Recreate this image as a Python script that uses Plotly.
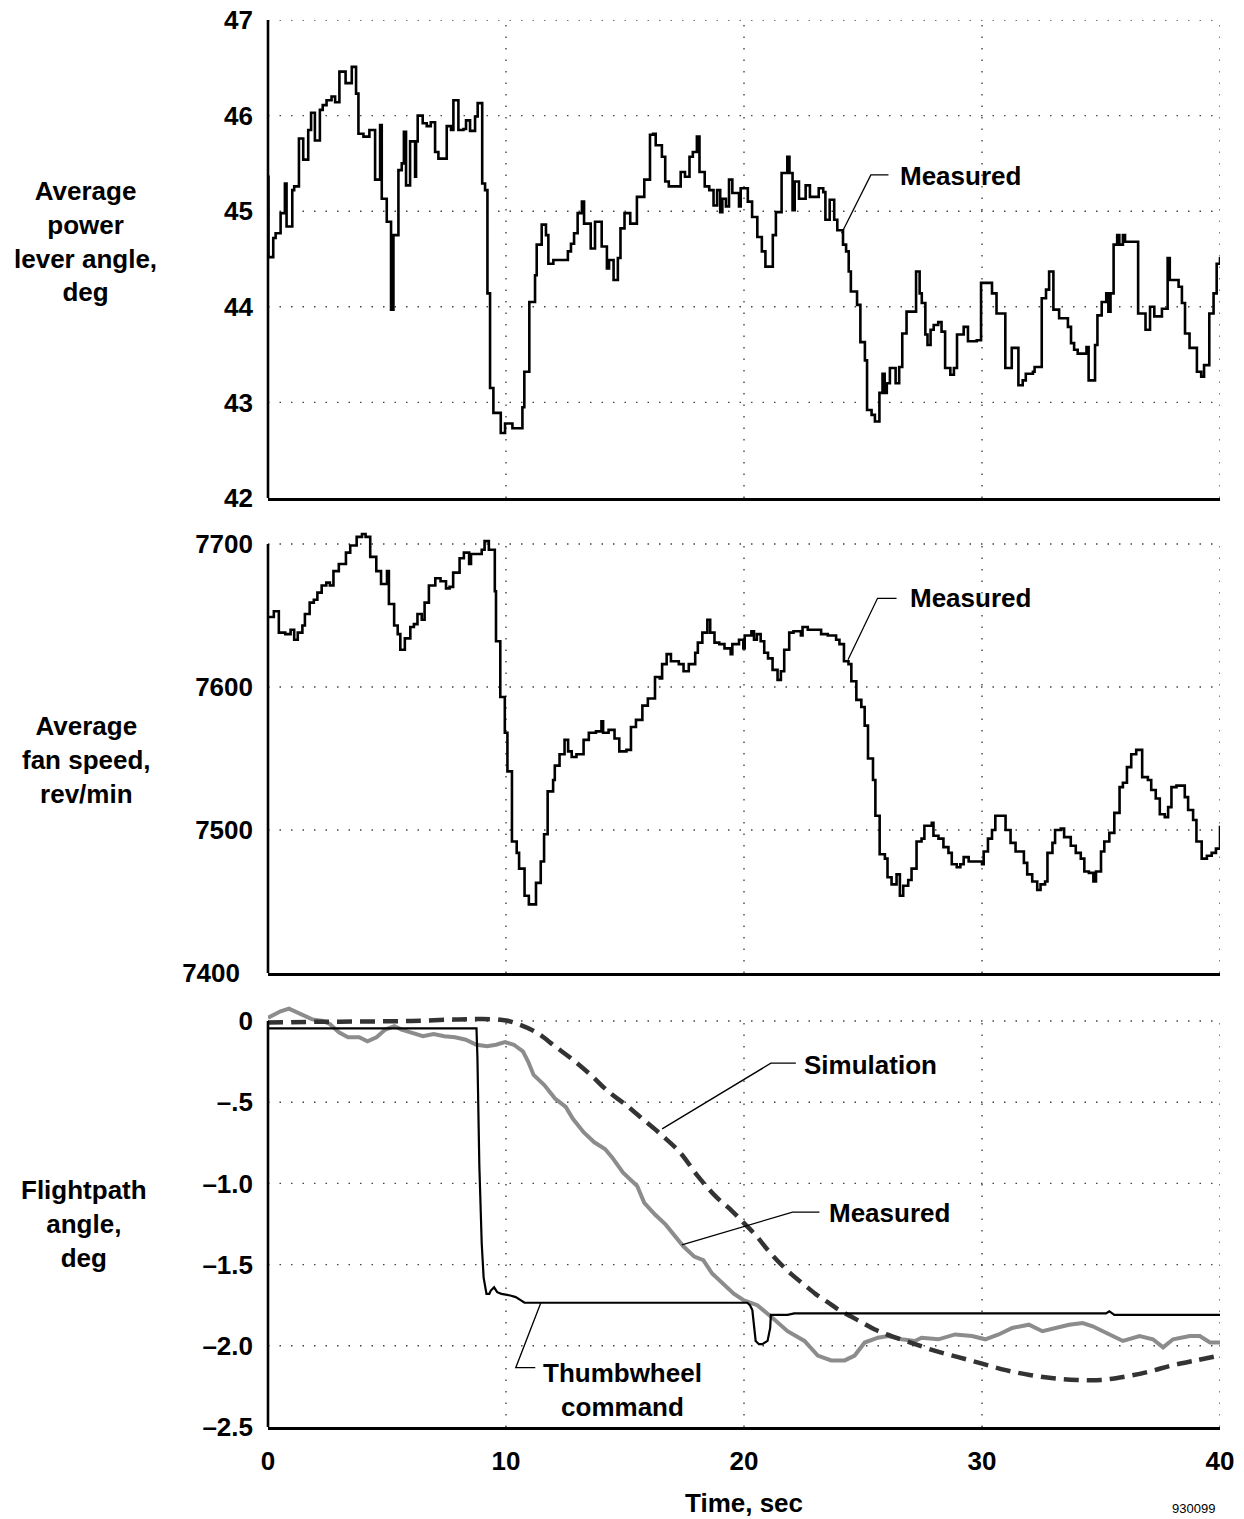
import plotly.graph_objects as go

FONT = "Liberation Sans, Arial, Helvetica, sans-serif"

# ---------------- data ----------------
# Panel 1: average power lever angle, deg (step trace)
t_pla = [0, 0.02, 0.22, 0.32, 0.53, 0.71, 0.78, 1.02, 1.10, 1.30, 1.48, 1.69, 1.81, 1.97, 2.18, 2.30,
         2.46, 2.67, 2.82, 3.00, 3.26, 3.52, 3.70, 3.80, 4.01, 4.26, 4.50, 4.71, 4.78, 4.99, 5.17, 5.27,
         5.48, 5.62, 5.71, 5.80, 5.97, 6.18, 6.22, 6.29, 6.50, 6.67, 6.84, 7.02, 7.16, 7.51, 7.69, 7.79,
         8.00, 8.21, 8.32, 8.49, 8.70, 8.81, 9.00, 9.12, 9.22, 9.33, 9.47, 9.78, 9.96, 10.27, 10.69, 10.77,
         10.98, 11.22, 11.29, 11.50, 11.68, 11.78, 11.99,
         12.60, 12.73, 12.86, 13.01, 13.19, 13.28, 13.56, 13.74, 14.02, 14.24, 14.33, 14.52, 14.70, 14.81,
         14.98, 15.22, 15.50, 15.81, 16.05, 16.18, 16.29, 16.55, 16.69, 16.84, 17.34, 17.52, 17.71, 17.85,
         18.02, 18.13, 18.35, 18.54, 18.72, 18.87, 19.00, 19.09, 19.24, 19.37, 19.51, 19.79, 19.86, 20.16,
         20.34, 20.56, 20.75, 20.90, 21.21, 21.34, 21.58, 21.82, 21.91, 22.04, 22.13, 22.31, 22.59, 22.77,
         23.14, 23.33, 23.42, 23.60, 23.79, 23.92, 24.16, 24.29, 24.40, 24.49, 24.75, 24.89, 25.08, 25.17,
         25.36, 25.50, 25.69, 25.82, 25.91, 26.00, 26.13, 26.37, 26.52, 26.65, 26.83, 27.23, 27.38, 27.47,
         27.62, 27.71, 27.84, 27.97, 28.16, 28.30, 28.45, 28.67, 28.82, 28.95, 29.23, 29.41, 29.78, 29.96,
         30.42, 30.61, 30.98, 31.25, 31.53, 31.71, 31.84, 32.14, 32.21, 32.51, 32.69, 32.82, 33.00, 33.24,
         33.61, 33.74, 33.87, 34.02, 34.39, 34.48, 34.75, 34.85, 35.03, 35.22, 35.31, 35.40, 35.53, 35.68,
         35.77, 35.92, 36.01, 36.56, 36.87, 37.06, 37.24, 37.56, 37.80, 37.89, 38.26, 38.40, 38.53, 38.72,
         39.03, 39.21, 39.33, 39.55, 39.73, 39.86, 40.0]
pla = [45.36, 44.52, 44.72, 44.77, 44.98, 45.29, 44.84, 45.22, 45.26, 45.76, 45.54, 45.85, 46.03, 45.74, 46.06, 46.11,
       46.16, 46.20, 46.14, 46.46, 46.34, 46.51, 46.23, 45.81, 45.78, 45.85, 45.33, 45.90, 45.13, 44.89, 43.97, 44.75,
       45.43, 45.50, 45.83, 45.27, 45.73, 45.36, 45.73, 46.00, 45.92, 45.89, 45.93, 45.62, 45.55, 45.89, 45.85, 46.16,
       45.85, 45.86, 45.95, 45.84, 45.99, 46.13, 45.29, 45.22, 44.14, 43.15, 42.89, 42.68, 42.78, 42.73, 42.95, 43.32,
       44.05, 44.33, 44.65, 44.86, 44.75, 44.45, 44.49,
       44.58, 44.66, 44.77, 44.98, 45.10, 44.87, 44.61, 44.89, 44.63, 44.40, 44.49, 44.28, 44.51, 44.82,
       44.98, 44.87, 45.15, 45.33, 45.80, 45.81, 45.69, 45.57, 45.31, 45.26, 45.41, 45.36, 45.57, 45.62,
       45.78, 45.41, 45.26, 45.22, 45.06, 45.22, 44.99, 45.13, 45.05, 45.33, 45.19, 45.05, 45.24, 45.10,
       44.94, 44.73, 44.58, 44.42, 44.75, 44.99, 45.40, 45.57, 45.40, 45.01, 45.31, 45.13, 45.27, 45.15,
       45.24, 45.20, 44.91, 45.12, 44.91, 44.80, 44.65, 44.58, 44.37, 44.16, 44.02, 43.63, 43.44, 42.92,
       42.87, 42.80, 43.10, 43.30, 43.10, 43.20, 43.36, 43.20, 43.37, 43.72, 43.95, 44.37, 44.14, 44.04,
       43.71, 43.60, 43.76, 43.81, 43.84, 43.74, 43.36, 43.29, 43.36, 43.71, 43.79, 43.64, 43.65, 44.25,
       44.14, 43.93, 43.36, 43.57, 43.18, 43.23, 43.30, 43.32, 43.37, 44.09, 44.18, 44.37, 43.97, 43.88,
       43.79, 43.62, 43.55, 43.51, 43.58, 43.23, 43.60, 43.91, 44.05, 44.14, 43.95, 44.14, 44.65, 44.75,
       44.65, 44.75, 44.68, 43.93, 43.76, 44.00, 43.90, 43.98, 44.51, 44.28, 44.21, 44.04, 43.72, 43.57,
       43.32, 43.27, 43.39, 43.93, 44.14, 44.45, 44.52]

# Panel 2: average fan speed, rev/min (step trace)
t_fan = [0.0, 0.245, 0.455, 0.725, 0.95, 1.10, 1.25, 1.445, 1.55, 1.75, 1.925, 2.075, 2.255, 2.45, 2.60, 2.75,
         2.975, 3.275, 3.455, 3.725, 3.95, 4.10, 4.295, 4.55, 4.75, 5.00, 5.08, 5.30, 5.45, 5.56, 5.75, 5.98,
         6.13, 6.28, 6.46, 6.58, 6.76, 7.03, 7.25, 7.48, 7.63, 7.78, 8.05, 8.23, 8.45, 8.53, 8.98, 9.10,
         9.28, 9.53, 9.58, 9.76, 9.95, 10.06, 10.25, 10.45, 10.55, 10.78, 10.96, 11.26, 11.46, 11.60, 11.75,
         11.98, 12.05, 12.25, 12.46, 12.61, 12.76, 12.96, 13.26, 13.48, 13.78, 14.01, 14.08, 14.31, 14.56,
         14.76, 15.06, 15.25, 15.46, 15.73, 15.96, 16.26, 16.46, 16.56, 16.75, 16.93, 17.26, 17.46, 17.68,
         17.95, 18.06, 18.25, 18.46, 18.58, 18.76, 18.96,
         19.18, 19.44, 19.51, 19.79, 19.97, 20.03, 20.31, 20.42, 20.54, 20.70, 20.85, 21.01, 21.20, 21.41,
         21.55, 21.69, 21.90, 22.08, 22.39, 22.46, 22.68, 23.24, 23.52, 23.87, 24.01, 24.20, 24.39, 24.51,
         24.72, 24.93, 25.07, 25.21, 25.42, 25.52, 25.70, 25.92, 26.03, 26.20, 26.41, 26.55, 26.69, 26.90,
         27.04, 27.25, 27.46, 27.58, 27.89, 27.96, 28.17, 28.38, 28.59, 28.73, 28.94, 29.09, 29.23, 29.44,
         30.00, 30.07, 30.25, 30.42, 30.56, 30.99, 31.20, 31.41, 31.76, 31.90, 32.11, 32.32, 32.46, 32.65,
         32.75, 32.96, 33.07, 33.31, 33.45, 33.73, 33.94, 34.15, 34.30, 34.49, 34.68, 34.79, 35.00, 35.14,
         35.35, 35.56, 35.78, 35.92, 36.09, 36.27, 36.48, 36.73, 36.97, 37.11, 37.30, 37.47, 37.68, 37.82,
         37.96, 38.17, 38.52, 38.66, 38.87, 39.01, 39.23, 39.45, 39.65, 39.83, 40.0]
fan = [7649, 7653, 7638, 7637, 7640, 7633, 7638, 7643, 7651, 7659, 7661, 7666, 7671, 7673, 7671, 7681,
       7686, 7694, 7699, 7705, 7707, 7705, 7691, 7681, 7672, 7681, 7658, 7643, 7637, 7626, 7634, 7642,
       7644, 7651, 7647, 7659, 7671, 7676, 7674, 7669, 7670, 7680, 7690, 7694, 7686, 7693, 7696, 7702,
       7696, 7667, 7632, 7593, 7568, 7541, 7492, 7484, 7473, 7454, 7448, 7463, 7478, 7497, 7527,
       7535, 7545, 7553, 7563, 7555, 7551, 7553, 7563, 7568, 7569, 7576, 7568, 7570, 7564,
       7555, 7556, 7572, 7577, 7587, 7592, 7607, 7606, 7616, 7623, 7618, 7616, 7611, 7616,
       7624, 7631, 7638, 7647, 7638, 7631, 7630,
       7627, 7623, 7630, 7633, 7627, 7636, 7639, 7633, 7637, 7632, 7624, 7620, 7612, 7605,
       7611, 7626, 7638, 7639, 7636, 7642, 7640, 7637, 7636, 7633, 7630, 7618, 7616, 7604,
       7591, 7586, 7573, 7550, 7535, 7510, 7483, 7480, 7467, 7462, 7469, 7454, 7461, 7465,
       7473, 7492, 7494, 7503, 7505, 7496, 7494, 7488, 7484, 7476, 7474, 7476, 7481, 7478,
       7476, 7485, 7494, 7500, 7510, 7500, 7491, 7485, 7477, 7469, 7464, 7458, 7462, 7464,
       7484, 7491, 7500, 7501, 7495, 7489, 7484, 7480, 7471, 7470, 7464, 7471, 7485, 7492,
       7498, 7512, 7530, 7533, 7544, 7553, 7556, 7537, 7535, 7528, 7522, 7511, 7509, 7516,
       7530, 7531, 7523, 7514, 7507, 7492, 7480, 7482, 7484, 7487, 7503]

# Panel 3: flightpath angle, deg
t_gam_meas = [0, 0.23, 0.53, 0.88, 1.11, 1.48, 1.86, 2.31, 2.61, 2.98, 3.36, 3.83, 4.18, 4.56, 4.93, 5.31,
              5.61, 6.06, 6.51, 6.96, 7.41, 7.86, 8.31, 8.76, 9.21, 9.58, 9.96, 10.33, 10.71, 10.93, 11.16,
              11.61, 12.06, 12.51, 12.81, 13.26, 13.71, 14.16, 14.46, 14.91, 15.51, 15.81, 16.26, 16.71,
              17.16, 17.46, 17.91, 18.29, 18.66, 19.11, 19.57, 20.0, 20.56, 21.13, 21.83, 22.54, 23.10,
              23.66, 24.23, 24.65, 25.07, 25.63, 26.06, 26.62, 27.18, 27.46, 28.17, 28.87, 29.58, 30.14,
              30.70, 31.27, 31.97, 32.54, 33.10, 33.66, 34.23, 34.65, 35.21, 35.92, 36.62, 37.18, 37.61,
              38.03, 38.73, 39.15, 39.58, 40.0]
gam_meas = [0.02, 0.04, 0.06, 0.076, 0.06, 0.03, 0.01, 0.0, -0.02, -0.07, -0.10, -0.10, -0.125, -0.10, -0.053, -0.032,
            -0.053, -0.073, -0.094, -0.08, -0.094, -0.10, -0.115, -0.146, -0.156, -0.146, -0.13, -0.146, -0.187, -0.25, -0.332,
            -0.394, -0.477, -0.529, -0.602, -0.685, -0.747, -0.788, -0.84, -0.933, -1.016, -1.12, -1.192, -1.254,
            -1.337, -1.389, -1.451, -1.472, -1.555, -1.617, -1.679, -1.72, -1.75, -1.82, -1.91, -1.97, -2.06,
            -2.09, -2.09, -2.06, -1.98, -1.95, -1.94, -1.96, -1.97, -1.95, -1.96, -1.93, -1.94, -1.96,
            -1.93, -1.89, -1.87, -1.91, -1.89, -1.87, -1.86, -1.88, -1.92, -1.97, -1.94, -1.96, -2.01,
            -1.96, -1.94, -1.94, -1.98, -1.98]

t_sim = [0, 2, 4, 6, 8, 9, 10, 10.56, 11.31, 12.06, 12.81, 13.56, 14.31, 15.06, 15.81, 16.56, 17.31, 18.06,
         18.81, 19.5, 20.0, 20.5, 21.0, 21.5, 22.0, 22.5, 23.0, 23.5, 24.0, 24.5, 25.0, 25.5, 26.0, 27.0,
         28.0, 29.0, 30.0, 31.0, 32.0, 33.0, 34.0, 35.0, 36.0, 37.0, 38.0, 39.0, 40.0]
sim = [-0.01, -0.005, -0.003, 0.0, 0.01, 0.012, 0.003, -0.022, -0.073, -0.156, -0.239, -0.332, -0.436, -0.519,
       -0.612, -0.705, -0.809, -0.955, -1.08, -1.17, -1.245, -1.32, -1.41, -1.49, -1.56, -1.62, -1.68, -1.73,
       -1.78, -1.82, -1.86, -1.90, -1.93, -1.98, -2.03, -2.07, -2.11, -2.15, -2.18, -2.20, -2.21, -2.21,
       -2.19, -2.16, -2.12, -2.09, -2.06]

t_thumb = [0, 8.76, 8.80, 8.88, 8.98, 9.06, 9.18, 9.30, 9.36, 9.50, 9.63, 9.81, 10.18, 10.41, 10.63, 10.78,
           20.14, 20.25, 20.35, 20.42, 20.49, 20.63, 20.77, 20.99, 21.10, 21.13, 21.83, 22.11, 35.21, 35.35,
           35.56, 40.0]
thumb = [-0.046, -0.046, -0.23, -0.89, -1.37, -1.58, -1.68, -1.68, -1.66, -1.64, -1.67, -1.68, -1.69, -1.70,
         -1.72, -1.735, -1.735, -1.75, -1.78, -1.89, -1.97, -1.99, -1.99, -1.97, -1.89, -1.81, -1.81, -1.80,
         -1.80, -1.787, -1.81, -1.81]

x_ticks = [0, 10, 20, 30, 40]
pla_ticks = [42, 43, 44, 45, 46, 47]
fan_ticks = [7400, 7500, 7600, 7700]
fan_ticktext = ["7400\u2002", "7500", "7600", "7700"]
gam_ticks = [-2.5, -2.0, -1.5, -1.0, -0.5, 0]
gam_ticktext = ["\u20132.5", "\u20132.0", "\u20131.5", "\u20131.0", "\u2013.5", "0"]

# ---------------- layout geometry ----------------
W, H = 1244, 1519
L, R, T, B = 268, 24, 20, 92
PH = H - T - B


def fy(py):
    return (H - B - py) / PH


pla_range = [42, 47]
fan_range = [7400, 7712]
gam_range = [-2.5, 0.1]

fig = go.Figure()
fig.add_trace(go.Scatter(x=t_pla, y=pla, mode="lines", xaxis="x", yaxis="y",
                         line=dict(color="black", width=2.6, shape="hv"),
                         showlegend=False, hoverinfo="skip"))
fig.add_trace(go.Scatter(x=t_fan, y=fan, mode="lines", xaxis="x2", yaxis="y2",
                         line=dict(color="black", width=2.6, shape="hv"),
                         showlegend=False, hoverinfo="skip"))
fig.add_trace(go.Scatter(x=t_gam_meas, y=gam_meas, mode="lines", xaxis="x3", yaxis="y3",
                         line=dict(color="#8c8c8c", width=4),
                         showlegend=False, hoverinfo="skip"))
fig.add_trace(go.Scatter(x=t_sim, y=sim, mode="lines", xaxis="x3", yaxis="y3",
                         line=dict(color="#333333", width=4.5, dash="15px,8px", shape="spline"),
                         showlegend=False, hoverinfo="skip"))
fig.add_trace(go.Scatter(x=t_thumb, y=thumb, mode="lines", xaxis="x3", yaxis="y3",
                         line=dict(color="black", width=2.2),
                         showlegend=False, hoverinfo="skip"))

tickfont = dict(family=FONT, size=26, color="black", weight="bold")


def xax(anchor, labels):
    return dict(domain=[0, 1], range=[0, 40], anchor=anchor, showline=True, linecolor="black",
                linewidth=3, showgrid=False, zeroline=False, ticks="",
                tickvals=x_ticks, showticklabels=labels, tickfont=tickfont,
                ticklabelstandoff=9)


def yax(dom, rng, vals, text=None):
    d = dict(domain=dom, range=rng, showline=False, showgrid=False, zeroline=False,
             ticks="", tickvals=vals, tickfont=tickfont, ticklabelstandoff=14)
    if text is not None:
        d["ticktext"] = text
    return d


shapes = []
panels = [("x", "y", pla_ticks, pla_range), ("x2", "y2", fan_ticks, fan_range),
          ("x3", "y3", gam_ticks, gam_range)]
grid_line = dict(color="#444444", width=1.4, dash="1.5px,10px")
for xr, yr, ticks, rng in panels:
    top = max(ticks)
    for v in ticks:
        if v == min(ticks):
            continue
        shapes.append(dict(type="line", xref=xr, yref=yr, x0=0, x1=40, y0=v, y1=v,
                           line=grid_line, layer="below"))
    for xv in x_ticks[1:]:
        shapes.append(dict(type="line", xref=xr, yref=yr, x0=xv, x1=xv, y0=rng[0], y1=top,
                           line=grid_line, layer="below"))
    # left axis line (solid), from bottom to top tick
    frac = (top - rng[0]) / (rng[1] - rng[0])
    shapes.append(dict(type="line", xref=xr + " domain", yref=yr + " domain", x0=0, x1=0,
                       y0=0, y1=frac, line=dict(color="black", width=2.6)))

leader = dict(color="black", width=1.3)
shapes += [
    dict(type="path", xref="x", yref="y", path="M 24.10,44.77 L 25.33,45.38 L 26.07,45.38", line=leader),
    dict(type="path", xref="x2", yref="y2", path="M 24.37,7619 L 25.61,7662 L 26.41,7662", line=leader),
    dict(type="path", xref="x3", yref="y3", path="M 16.56,-0.664 L 21.13,-0.26 L 22.18,-0.26", line=leader),
    dict(type="path", xref="x3", yref="y3", path="M 17.39,-1.378 L 22.04,-1.177 L 23.17,-1.177", line=leader),
    dict(type="path", xref="x3", yref="y3", path="M 11.46,-1.737 L 10.41,-2.135 L 11.23,-2.135", line=leader),
]

lab = dict(family=FONT, size=26, color="black", weight="bold")
ann = [
    dict(x=26.49, y=45.37, xref="x", yref="y", text="Measured", showarrow=False, xanchor="left",
         yanchor="middle", font=lab),
    dict(x=26.90, y=7662, xref="x2", yref="y2", text="Measured", showarrow=False, xanchor="left",
         yanchor="middle", font=lab),
    dict(x=22.42, y=-0.27, xref="x3", yref="y3", text="Simulation", showarrow=False, xanchor="left",
         yanchor="middle", font=lab),
    dict(x=23.49, y=-1.18, xref="x3", yref="y3", text="Measured", showarrow=False, xanchor="left",
         yanchor="middle", font=lab),
    dict(x=14.9, y=-2.27, xref="x3", yref="y3", text="Thumbwheel<br>command", showarrow=False,
         xanchor="center", yanchor="middle", font=lab),
    dict(x=(85 - L) / (W - L - R), y=fy(241.7), xref="paper", yref="paper",
         text="Average<br>power<br>lever angle,<br>deg", showarrow=False, xanchor="center",
         yanchor="middle", font=lab),
    dict(x=(86 - L) / (W - L - R), y=fy(760), xref="paper", yref="paper",
         text="Average<br>fan speed,<br>rev/min", showarrow=False, xanchor="center",
         yanchor="middle", font=lab),
    dict(x=(84 - L) / (W - L - R), y=fy(1224), xref="paper", yref="paper",
         text="Flightpath<br>angle,<br>deg", showarrow=False, xanchor="center",
         yanchor="middle", font=lab),
    dict(x=0.5, y=fy(1503), xref="paper", yref="paper", text="Time, sec", showarrow=False,
         xanchor="center", yanchor="middle", font=lab),
    dict(x=(1193 - L) / (W - L - R), y=fy(1518), xref="paper", yref="paper", text="930099",
         showarrow=False, xanchor="center", yanchor="bottom",
         font=dict(family=FONT, size=13, color="black")),
]

fig.update_layout(
    width=W, height=H, margin=dict(l=L, r=R, t=T, b=B, autoexpand=False),
    paper_bgcolor="white", plot_bgcolor="white",
    xaxis=xax("y", False), xaxis2=xax("y2", False), xaxis3=xax("y3", True),
    yaxis=yax([fy(498), fy(20)], pla_range, pla_ticks),
    yaxis2=yax([fy(973), fy(544 - 12 * 1.43)], fan_range, fan_ticks, fan_ticktext),
    yaxis3=yax([0, fy(1021 - 0.1 * 162.4)], gam_range, gam_ticks, gam_ticktext),
    shapes=shapes, annotations=ann, showlegend=False,
)
fig.layout.yaxis.anchor = "x"
fig.layout.yaxis2.anchor = "x2"
fig.layout.yaxis3.anchor = "x3"

fig.write_html("out.html")
